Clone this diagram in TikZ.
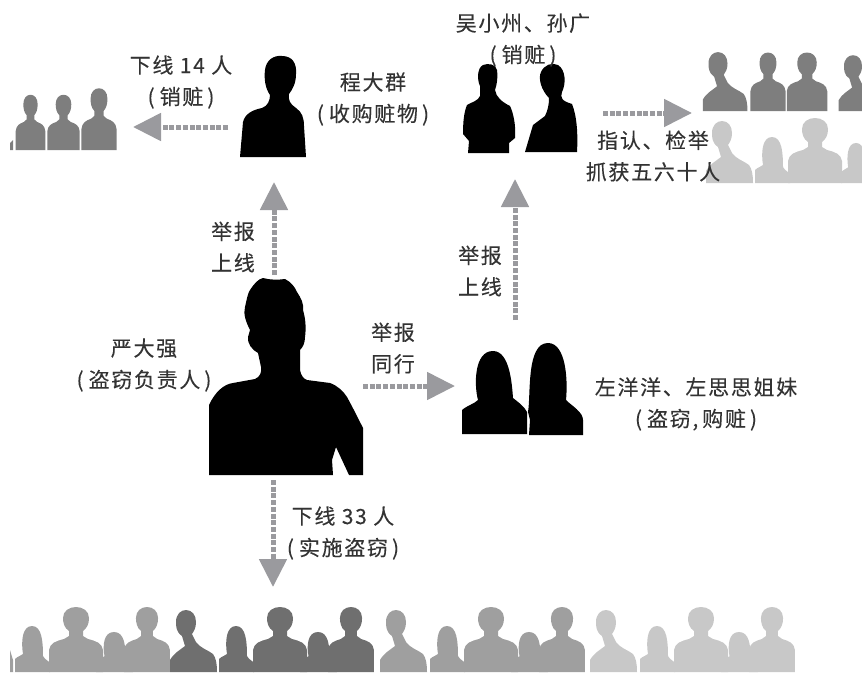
\documentclass[tikz,border=0pt]{standalone}
\usepackage{fontspec}
\newfontfamily\cjk[LetterSpace=8,FakeBold=0.2]{Noto Sans CJK SC}
\usetikzlibrary{arrows.meta}

\definecolor{crowddark}{HTML}{6F6F6F}
\definecolor{crowdmid}{HTML}{7E7E7E}
\definecolor{crowdsoft}{HTML}{9F9F9F}
\definecolor{crowdpale}{HTML}{C8C8C8}
\definecolor{flowgray}{HTML}{9A9A9E}
\definecolor{labelgray}{HTML}{333333}

\tikzset{
  man/.pic={
    \path[pic actions] (-27,0) -- (-27,-22) .. controls (-26,-29) and (-20,-31) .. (-12,-33)
      -- (-7,-36) -- (-7,-41) .. controls (-12,-44) and (-13,-50) .. (-13,-54)
      .. controls (-13,-61) and (-7,-65) .. (0,-65) .. controls (7,-65) and (13,-61) .. (13,-54)
      .. controls (13,-48) and (11,-44) .. (7,-41) -- (7,-36) -- (12,-33)
      .. controls (20,-31) and (26,-29) .. (27,-22) -- (27,0) -- cycle;
  },
  woman/.pic={
    \path[pic actions] (-17,0) -- (-17,-13) .. controls (-14,-16) and (-11,-16) .. (-9,-18)
      .. controls (-11,-30) and (-10,-46) .. (0,-46) .. controls (10,-46) and (11,-30) .. (11,-16)
      .. controls (13,-12) and (17,-11) .. (18,-9) -- (18,0) -- cycle;
  },
  bust/.pic={
    \path[pic actions] (-16,0) -- (-16,-12) .. controls (-12,-19) and (-6,-22) .. (-1,-26)
      -- (-4,-36) .. controls (-10,-40) and (-10,-46) .. (-10,-50)
      .. controls (-10,-58) and (-5,-62) .. (0,-62) .. controls (6,-62) and (10,-57) .. (10,-50)
      .. controls (10,-44) and (8,-41) .. (6,-38) -- (10,-30)
      .. controls (14,-24) and (22,-22) .. (27,-18) .. controls (30,-14) and (31,-8) .. (31,0) -- cycle;
  },
  figbox/.style={inner sep=0pt,outer sep=0pt},
  lbl/.style={font=\cjk\fontsize{21}{31.5}\selectfont,text=labelgray,align=center,inner sep=0pt},
  flow/.style={flowgray,line width=5pt,dash pattern=on 5pt off 1.7pt,
    -{Triangle[length=28pt,width=27pt]}},
}

% two women and two men side by side
\newcommand{\crowdgroup}[2]{%
  \pic[fill=#2] at (#1+17,672) {woman};
  \pic[fill=#2] at (#1+61,672) {man};
  \pic[fill=#2,xscale=1.05,yscale=0.87] at (#1+99,672) {woman};
  \pic[fill=#2,xscale=0.85] at (#1+132,672) {man};
}
\newcommand{\paren}[1]{(\hspace{5pt}#1\hspace{4pt})}

\begin{document}
\begin{tikzpicture}[x=1pt,y=-1pt]

    \clip (0,0) rectangle (862,672);

    %the black figures
    \fill[black] (240,157) -- (243,122) .. controls (245,114) and (252,110) .. (262,108)
      .. controls (268,106) and (270,100) .. (270,95) .. controls (265,88) and (264,78) .. (265,70)
      .. controls (266,60) and (274,55) .. (282,56) .. controls (292,56) and (297,63) .. (296,74)
      .. controls (296,84) and (292,90) .. (289,94) .. controls (288,100) and (290,104) .. (296,108)
      .. controls (302,112) and (304,118) .. (304,126) -- (306,157) -- cycle;

    \fill[black] (468,153) -- (469,141) -- (463,134) .. controls (463,122) and (464,112) .. (467,105)
      .. controls (472,102) and (478,101) .. (480,96) -- (480,86) .. controls (477,80) and (477,68) .. (483,65)
      .. controls (488,63) and (496,64) .. (497,70) .. controls (498,78) and (497,84) .. (495,90)
      .. controls (496,97) and (502,102) .. (510,106) .. controls (514,114) and (516,128) .. (515,138)
      -- (509,143) -- (509,153) -- cycle;
    \fill[black] (525,152) -- (533,125) -- (545,116) .. controls (548,110) and (549,104) .. (549,98)
      .. controls (541,90) and (538,78) .. (541,72) .. controls (544,65) and (552,62) .. (558,65)
      .. controls (566,70) and (566,84) .. (562,92) .. controls (560,98) and (562,101) .. (572,104)
      .. controls (577,116) and (578,135) .. (577,152) -- cycle;

    \fill[black] (209,475) -- (209,405) .. controls (215,392) and (224,384) .. (233,383) -- (255,379)
      .. controls (260,377) and (262,372) .. (261,367) -- (258,353) .. controls (252,350) and (247,343) .. (248,337)
      -- (250,330) .. controls (246,322) and (243,314) .. (245,307) .. controls (247,298) and (248,293) .. (250,290)
      .. controls (254,284) and (258,279) .. (263,278) .. controls (270,280) and (278,280) .. (285,279)
      .. controls (291,282) and (295,287) .. (297,292) .. controls (301,298) and (304,304) .. (303,310)
      .. controls (306,320) and (306,330) .. (305,337) .. controls (305,343) and (303,347) .. (300,350)
      -- (300,370) .. controls (301,376) and (304,379) .. (307,380) -- (330,383)
      .. controls (338,386) and (343,391) .. (347,397) .. controls (353,408) and (358,418) .. (363,428)
      -- (363,475) -- (349,475) -- (336,447) -- (332,460) -- (333,475) -- cycle;

    \fill[black] (462,434) -- (462,410) .. controls (468,405) and (474,404) .. (478,400)
      .. controls (474,385) and (474,351) .. (493,351) .. controls (510,351) and (512,385) .. (513,398)
      .. controls (518,402) and (524,406) .. (527,412) -- (527,434) -- cycle;
    \fill[black] (529,435) -- (530,420) -- (528,412) .. controls (531,395) and (526,343) .. (548,343)
      .. controls (566,343) and (568,380) .. (566,400) .. controls (572,406) and (583,412) .. (583,420)
      -- (583,435) -- cycle;

    %the crowd on the left
    \fill[crowdmid] (10,150) -- (10,143) -- (13,140) -- (13,150) -- cycle;
    \pic[fill=crowdmid,xscale=0.55,yscale=0.85] at (30.5,150) {man};
    \pic[fill=crowdmid,xscale=0.6,yscale=0.85] at (63.5,150) {man};
    \pic[fill=crowdmid,xscale=0.65,yscale=0.95] at (99,150) {man};

    %the crowd on the right
    \pic[fill=crowdmid,scale=0.95] at (718,111) {bust};
    \pic[fill=crowdmid,xscale=0.65,yscale=0.9] at (768,111) {man};
    \pic[fill=crowdmid,xscale=0.75,yscale=0.9] at (807,111) {man};
    \pic[fill=crowdmid,scale=0.9] at (853,111) {bust};
    \pic[fill=crowdpale] at (722,183) {bust};
    \pic[fill=crowdpale] at (772,183) {woman};
    \pic[fill=crowdpale] at (815,183) {man};
    \pic[fill=crowdpale,scale=0.87] at (856,183) {woman};

    %the crowd at the bottom
    \fill[crowdsoft] (10,672) -- (10,650) -- (13,660) -- (13,672) -- cycle;
    \crowdgroup{15}{crowdsoft}
    \crowdgroup{219}{crowddark}
    \crowdgroup{430}{crowdsoft}
    \crowdgroup{640}{crowdpale}
    \pic[fill=crowddark] at (186,672) {bust};
    \pic[fill=crowdsoft] at (396,672) {bust};
    \pic[fill=crowdpale] at (606,672) {bust};

    %boxes round the figures, for the arrows
    \node[figbox,minimum width=66pt,minimum height=100pt] (cheng) at (273,107) {};
    \node[figbox,minimum width=114pt,minimum height=90pt] (wu) at (520,108) {};
    \node[figbox,minimum width=154pt,minimum height=197pt] (yan) at (286,376.5) {};
    \node[figbox,minimum width=120pt,minimum height=92pt] (sisters) at (522,389) {};
    \node[figbox,minimum width=105pt,minimum height=62pt] (crowdL) at (64.5,119) {};
    \node[figbox,minimum width=162pt,minimum height=134pt] (crowdR) at (781,117) {};
    \node[figbox,minimum width=785pt,minimum height=67pt] (crowdB) at (402,638.5) {};

    %the arrows
    \draw[flow] ([xshift=-12pt,yshift=-20pt]cheng.west) -- ([xshift=16pt,yshift=-8pt]crowdL.east);
    \draw[flow] ([xshift=-12pt,yshift=3pt]yan.north) -- ([xshift=1pt,yshift=-25pt]cheng.south);
    \draw[flow] ([yshift=-9.5pt]yan.east) -- ([xshift=-7pt,yshift=3pt]sisters.west);
    \draw[flow] ([xshift=-7pt,yshift=23pt]sisters.north) -- ([xshift=-5pt,yshift=-26pt]wu.south);
    \draw[flow] ([xshift=26pt,yshift=-5pt]wu.east) -- ([xshift=-8pt,yshift=4pt]crowdR.west);
    \draw[flow] ([xshift=-13pt,yshift=-5pt]yan.south) -- ([xshift=-129pt,yshift=18pt]crowdB.north);

    %the labels
    \node[lbl] (down14) at (181,82) {下线 14 人\\\paren{销赃}};
    \node[lbl] (chengtxt) at (373,99) {程大群\\\paren{收购赃物}};
    \node[lbl] (wutxt) at (523,40) {吴小州、孙广\\\paren{销赃}};
    \node[lbl] (pointtxt) at (653,156) {指认、检举\\抓获五六十人};
    \node[lbl] (reportL) at (233,247) {举报\\上线};
    \node[lbl] (reportR) at (480,271) {举报\\上线};
    \node[lbl] (reportM) at (393,348) {举报\\同行};
    \node[lbl] (yantxt) at (144,365) {严大强\\\paren{盗窃负责人}};
    \node[lbl] (sistertxt) at (696,404) {左洋洋、左思思姐妹\\\paren{盗窃,\hspace{4pt}购赃}};
    \node[lbl] (down33) at (343,533) {下线 33 人\\\paren{实施盗窃}};

\end{tikzpicture}
\end{document}
